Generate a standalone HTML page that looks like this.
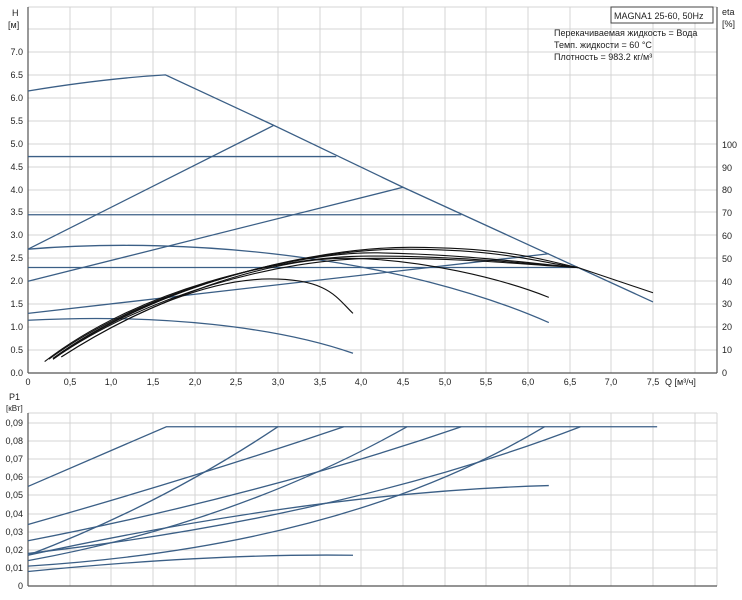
<!DOCTYPE html>
<html><head><meta charset="utf-8"><style>
body{margin:0;background:#fff;}
svg{display:block;font-family:"Liberation Sans",sans-serif;}
</style></head><body>
<svg width="742" height="600" viewBox="0 0 742 600" xmlns="http://www.w3.org/2000/svg">
<rect width="742" height="600" fill="#fff"/>
<g stroke="#d4d4d4" stroke-width="1">
<line x1="70" y1="7" x2="70" y2="373"/><line x1="111" y1="7" x2="111" y2="373"/><line x1="153" y1="7" x2="153" y2="373"/><line x1="195" y1="7" x2="195" y2="373"/><line x1="236" y1="7" x2="236" y2="373"/><line x1="278" y1="7" x2="278" y2="373"/><line x1="320" y1="7" x2="320" y2="373"/><line x1="361" y1="7" x2="361" y2="373"/><line x1="403" y1="7" x2="403" y2="373"/><line x1="445" y1="7" x2="445" y2="373"/><line x1="486" y1="7" x2="486" y2="373"/><line x1="528" y1="7" x2="528" y2="373"/><line x1="570" y1="7" x2="570" y2="373"/><line x1="611" y1="7" x2="611" y2="373"/><line x1="653" y1="7" x2="653" y2="373"/><line x1="695" y1="7" x2="695" y2="373"/>
<line x1="28" y1="350" x2="717" y2="350"/><line x1="28" y1="327" x2="717" y2="327"/><line x1="28" y1="304" x2="717" y2="304"/><line x1="28" y1="281" x2="717" y2="281"/><line x1="28" y1="258" x2="717" y2="258"/><line x1="28" y1="235" x2="717" y2="235"/><line x1="28" y1="212" x2="717" y2="212"/><line x1="28" y1="190" x2="717" y2="190"/><line x1="28" y1="167" x2="717" y2="167"/><line x1="28" y1="144" x2="717" y2="144"/><line x1="28" y1="121" x2="717" y2="121"/><line x1="28" y1="98" x2="717" y2="98"/><line x1="28" y1="75" x2="717" y2="75"/><line x1="28" y1="52" x2="717" y2="52"/><line x1="28" y1="29" x2="717" y2="29"/><line x1="28" y1="7" x2="717" y2="7"/>
</g>
<g stroke="#d4d4d4" stroke-width="1">
<line x1="70" y1="413" x2="70" y2="586"/><line x1="111" y1="413" x2="111" y2="586"/><line x1="153" y1="413" x2="153" y2="586"/><line x1="195" y1="413" x2="195" y2="586"/><line x1="236" y1="413" x2="236" y2="586"/><line x1="278" y1="413" x2="278" y2="586"/><line x1="320" y1="413" x2="320" y2="586"/><line x1="361" y1="413" x2="361" y2="586"/><line x1="403" y1="413" x2="403" y2="586"/><line x1="445" y1="413" x2="445" y2="586"/><line x1="486" y1="413" x2="486" y2="586"/><line x1="528" y1="413" x2="528" y2="586"/><line x1="570" y1="413" x2="570" y2="586"/><line x1="611" y1="413" x2="611" y2="586"/><line x1="653" y1="413" x2="653" y2="586"/><line x1="695" y1="413" x2="695" y2="586"/>
<line x1="28" y1="568" x2="717" y2="568"/><line x1="28" y1="550" x2="717" y2="550"/><line x1="28" y1="532" x2="717" y2="532"/><line x1="28" y1="514" x2="717" y2="514"/><line x1="28" y1="495" x2="717" y2="495"/><line x1="28" y1="477" x2="717" y2="477"/><line x1="28" y1="459" x2="717" y2="459"/><line x1="28" y1="441" x2="717" y2="441"/><line x1="28" y1="423" x2="717" y2="423"/><line x1="28" y1="413" x2="717" y2="413"/><line x1="717" y1="413" x2="717" y2="586"/>
</g>
<g stroke="#555" stroke-width="1.2">
<line x1="28" y1="7" x2="28" y2="373"/><line x1="28" y1="373" x2="717" y2="373"/><line x1="717" y1="7" x2="717" y2="373"/>
<line x1="28" y1="413" x2="28" y2="586"/><line x1="28" y1="586" x2="717" y2="586"/>
</g>
<g transform="translate(28,373) scale(83.33,-45.86)" fill="none">
<g stroke="#3b5f86" stroke-width="1.3">
<path vector-effect="non-scaling-stroke" d="M0 6.15 Q0.9 6.42 1.65 6.5 L2.95 5.4 L4.5 4.05 L7.5 1.55"/>
<path vector-effect="non-scaling-stroke" d="M0 4.72 L3.7 4.72"/>
<path vector-effect="non-scaling-stroke" d="M0 3.45 L5.2 3.45"/>
<path vector-effect="non-scaling-stroke" d="M0 2.3 L6.6 2.3"/>
<path vector-effect="non-scaling-stroke" d="M0 2.7 L2.95 5.4"/>
<path vector-effect="non-scaling-stroke" d="M0 2.0 L4.5 4.05"/>
<path vector-effect="non-scaling-stroke" d="M0 1.3 L6.25 2.6"/>
<path vector-effect="non-scaling-stroke" d="M0 2.7 C2 3.0 4.5 2.5 6.25 1.1"/>
<path vector-effect="non-scaling-stroke" d="M0 1.15 C1.6 1.3 3.0 1.0 3.9 0.43"/>
</g>
<g stroke="#111" stroke-width="1.1">
<path vector-effect="non-scaling-stroke" d="M0.3 0.3 C1.5 1.9 3.4 2.75 4.6 2.74 S6.2 2.45 6.6 2.3 L7.5 1.75"/>
<path vector-effect="non-scaling-stroke" d="M0.25 0.3 C1.4 1.85 3.3 2.7 4.5 2.7 S6.1 2.42 6.6 2.3"/>
<path vector-effect="non-scaling-stroke" d="M0.3 0.32 C1.4 1.8 3.2 2.65 4.2 2.62 S6 2.4 6.6 2.3"/>
<path vector-effect="non-scaling-stroke" d="M0.2 0.25 C1.3 1.8 3 2.55 4.1 2.55 S6 2.38 6.6 2.3"/>
<path vector-effect="non-scaling-stroke" d="M0.3 0.3 C1.4 1.7 3 2.5 4.2 2.5 S6 2.35 6.6 2.3"/>
<path vector-effect="non-scaling-stroke" d="M0.4 0.35 C1.5 1.65 2.9 2.5 3.8 2.5 S5.7 2.05 6.25 1.65"/>
<path vector-effect="non-scaling-stroke" d="M0.4 0.35 C1.3 1.4 2.2 2.05 2.9 2.05 S3.7 1.65 3.9 1.3"/>
</g>
</g>
<g transform="translate(28,586) scale(83.33,-1810)" fill="none" stroke="#3b5f86" stroke-width="1.3">
<path vector-effect="non-scaling-stroke" d="M0 0.055 L1.66 0.088 L7.55 0.088"/>
<path vector-effect="non-scaling-stroke" d="M0 0.034 Q2 0.06 3.79 0.088"/>
<path vector-effect="non-scaling-stroke" d="M0 0.017 Q1.6 0.045 3.0 0.088"/>
<path vector-effect="non-scaling-stroke" d="M0 0.025 Q2.8 0.05 5.2 0.088"/>
<path vector-effect="non-scaling-stroke" d="M0 0.014 Q2.5 0.035 4.55 0.088"/>
<path vector-effect="non-scaling-stroke" d="M0 0.018 Q3.8 0.038 6.63 0.088"/>
<path vector-effect="non-scaling-stroke" d="M0 0.011 Q3.8 0.022 6.2 0.088"/>
<path vector-effect="non-scaling-stroke" d="M0 0.017 Q3.5 0.052 6.25 0.0555"/>
<path vector-effect="non-scaling-stroke" d="M0 0.008 Q2.2 0.018 3.9 0.017"/>
</g>
<g font-size="9" fill="#222">
<text x="12" y="16">H</text><text x="8" y="28">[м]</text>
<g text-anchor="end">
<text x="23" y="376">0.0</text><text x="23" y="353">0.5</text><text x="23" y="330">1.0</text><text x="23" y="307">1.5</text><text x="23" y="284">2.0</text><text x="23" y="261">2.5</text><text x="23" y="238">3.0</text><text x="23" y="215">3.5</text><text x="23" y="193">4.0</text><text x="23" y="170">4.5</text><text x="23" y="147">5.0</text><text x="23" y="124">5.5</text><text x="23" y="101">6.0</text><text x="23" y="78">6.5</text><text x="23" y="55">7.0</text>
</g>
<text x="722" y="15">eta</text><text x="722" y="27">[%]</text>
<text x="722" y="376">0</text><text x="722" y="353">10</text><text x="722" y="330">20</text><text x="722" y="307">30</text><text x="722" y="285">40</text><text x="722" y="262">50</text><text x="722" y="239">60</text><text x="722" y="216">70</text><text x="722" y="193">80</text><text x="722" y="171">90</text><text x="722" y="148">100</text>
<g text-anchor="middle">
<text x="28" y="385">0</text><text x="70" y="385">0,5</text><text x="111" y="385">1,0</text><text x="153" y="385">1,5</text><text x="195" y="385">2,0</text><text x="236" y="385">2,5</text><text x="278" y="385">3,0</text><text x="320" y="385">3,5</text><text x="361" y="385">4,0</text><text x="403" y="385">4,5</text><text x="445" y="385">5,0</text><text x="486" y="385">5,5</text><text x="528" y="385">6,0</text><text x="570" y="385">6,5</text><text x="611" y="385">7,0</text><text x="653" y="385">7,5</text>
</g>
<text x="665" y="385">Q [м³/ч]</text>
<text x="9" y="400">P1</text><text x="6" y="411" font-size="8">[кВт]</text>
<g text-anchor="end">
<text x="23" y="589">0</text><text x="23" y="571">0,01</text><text x="23" y="553">0,02</text><text x="23" y="535">0,03</text><text x="23" y="517">0,04</text><text x="23" y="498">0,05</text><text x="23" y="480">0,06</text><text x="23" y="462">0,07</text><text x="23" y="444">0,08</text><text x="23" y="426">0,09</text>
</g>
<rect x="611" y="7" width="102" height="16" fill="#fff" stroke="#444"/>
<text x="614" y="19">MAGNA1 25-60, 50Hz</text>
<text x="554" y="36">Перекачиваемая жидкость = Вода</text>
<text x="554" y="48">Темп. жидкости = 60 °C</text>
<text x="554" y="60">Плотность = 983.2 кг/м³</text>
</g>
</svg>
</body></html>
